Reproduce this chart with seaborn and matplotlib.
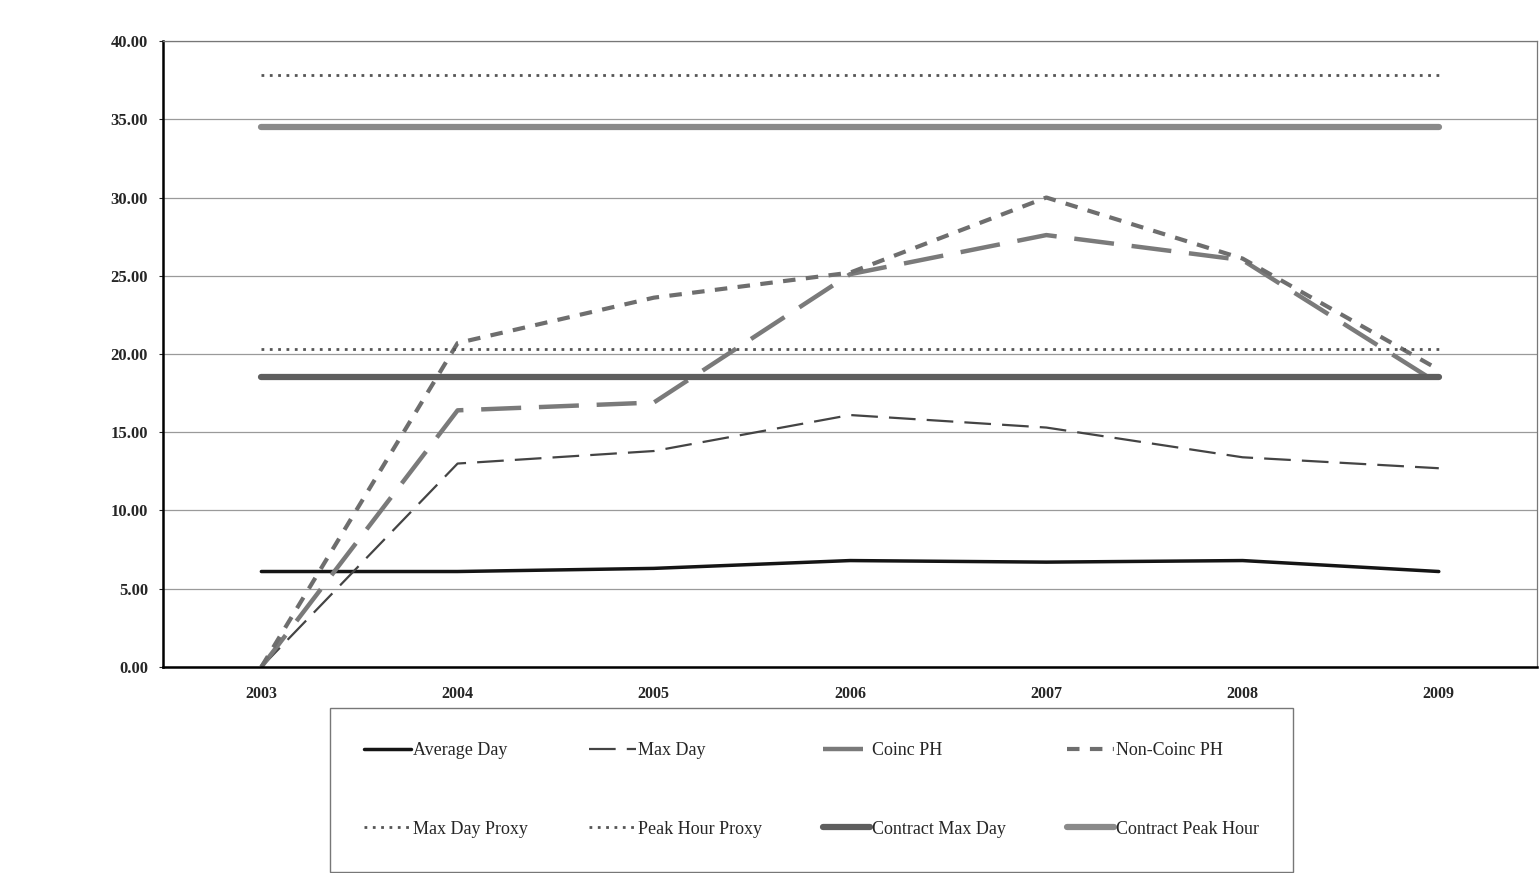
import pandas as pd
import numpy as np
import seaborn as sns
import matplotlib.pyplot as plt

sns.set_style('white')
plt.rcParams['font.family'] = ['Liberation Serif', 'DejaVu Serif']

# data
years = [2003, 2004, 2005, 2006, 2007, 2008, 2009]
average_day = [6.1, 6.1, 6.3, 6.8, 6.7, 6.8, 6.1]
max_day = [0.0, 13.0, 13.8, 16.1, 15.3, 13.4, 12.7]
coinc_ph = [0.0, 16.4, 16.9, 25.1, 27.6, 26.0, 18.1]
non_coinc_ph = [0.0, 20.7, 23.6, 25.2, 30.0, 26.1, 19.0]
max_day_proxy = [20.3] * 7
peak_hour_proxy = [37.8] * 7
contract_max_day = [18.5] * 7
contract_peak_hour = [34.5] * 7
yticks = [0, 5, 10, 15, 20, 25, 30, 35, 40]

series = {
    'Average Day': average_day,
    'Max Day': max_day,
    'Coinc PH': coinc_ph,
    'Non-Coinc PH': non_coinc_ph,
    'Max Day Proxy': max_day_proxy,
    'Peak Hour Proxy': peak_hour_proxy,
    'Contract Max Day': contract_max_day,
    'Contract Peak Hour': contract_peak_hour,
}
df = pd.DataFrame(series, index=years).reset_index(names='Year')
df = df.melt(id_vars='Year', var_name='Series', value_name='Value')

styles = {
    'Average Day': dict(color='#151515', lw=2.5, ls='-'),
    'Max Day': dict(color='#444444', lw=1.6, ls=(0, (12, 5))),
    'Coinc PH': dict(color='#7a7a7a', lw=3.2, ls=(0, (9, 4))),
    'Non-Coinc PH': dict(color='#6e6e6e', lw=3.0, ls=(0, (3, 2.5))),
    'Max Day Proxy': dict(color='#555555', lw=2.0, ls=(0, (1, 2))),
    'Peak Hour Proxy': dict(color='#555555', lw=2.0, ls=(0, (1, 2))),
    'Contract Max Day': dict(color='#5e5e5e', lw=4.5, ls='-'),
    'Contract Peak Hour': dict(color='#8a8a8a', lw=4.5, ls='-'),
}

fig = plt.figure(figsize=(15.4, 8.73), dpi=100)
ax = fig.add_axes([0.106, 0.236, 0.892, 0.717])

handles = {}
for name in series:
    st = styles[name]
    sub = df[df['Series'] == name]
    sns.lineplot(data=sub, x='Year', y='Value', ax=ax, color=st['color'],
                 lw=st['lw'], linestyle=st['ls'], label=name, legend=False)
    handles[name] = ax.lines[-1]

ax.set_xlim(2002.5, 2009.5)
ax.set_ylim(0, 40)
ax.set_yticks(yticks)
ax.set_yticklabels([f'{v:.2f}' for v in yticks], fontsize=12, fontweight='bold')
ax.set_xticks(years)
ax.set_xticklabels([str(y) for y in years], fontsize=11.5, fontweight='bold')
ax.tick_params(axis='x', pad=14, length=0)
ax.tick_params(axis='y', pad=8, length=3, direction='out', left=True)
ax.set_xlabel('')
ax.set_ylabel('')
ax.yaxis.grid(True, color='#9a9a9a', lw=0.9)
ax.set_axisbelow(True)
for side in ['left', 'bottom']:
    ax.spines[side].set_color('black')
    ax.spines[side].set_linewidth(1.8)
for side in ['top', 'right']:
    ax.spines[side].set_color('#777777')
    ax.spines[side].set_linewidth(0.9)

# matplotlib fills legend columns first, reorder so rows read like the original
order = ['Average Day', 'Max Day Proxy', 'Max Day', 'Peak Hour Proxy',
         'Coinc PH', 'Contract Max Day', 'Non-Coinc PH', 'Contract Peak Hour']
leg = fig.legend([handles[n] for n in order], order, ncol=4,
                 loc='upper center', bbox_to_anchor=(0.527, 0.189),
                 frameon=True, fancybox=False, edgecolor='#555555',
                 fontsize=13, handlelength=2.6, handletextpad=0.1,
                 columnspacing=3.4, labelspacing=3.4, borderpad=1.9,
                 borderaxespad=0)
leg.get_frame().set_linewidth(1.0)

plt.savefig('out.png', dpi=100)
